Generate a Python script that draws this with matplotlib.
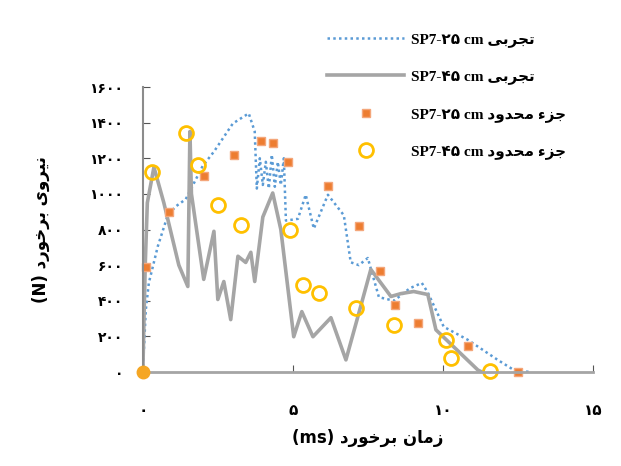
import matplotlib.pyplot as plt

# experimental SP7-25 cm (blue dotted)
exp25_t = [0, 0.1, 0.2, 0.5, 0.83, 1.1, 1.43, 2.0, 2.37, 3.0, 3.53, 3.73, 3.8, 3.9, 4.0, 4.1,
           4.2, 4.3, 4.4, 4.5, 4.6, 4.7, 4.77, 5.17, 5.43, 5.7, 6.17, 6.7, 6.93, 7.2, 7.5,
           7.87, 8.37, 8.9, 9.3, 9.5, 10.03, 10.83, 11.83, 12.37, 12.9]
exp25_f = [0, 350, 500, 706, 880, 930, 970, 1158, 1237, 1395, 1452, 1350, 1030, 1200, 1050, 1180,
           1030, 1220, 1040, 1180, 1050, 1200, 850, 860, 995, 805, 995, 880, 616, 600, 640,
           420, 400, 470, 500, 446, 254, 181, 68, 11, 0]

# experimental SP7-45 cm (gray solid)
exp45_t = [0, 0.08, 0.15, 0.37, 0.7, 1.2, 1.5, 1.57, 1.62, 2.03, 2.37, 2.5, 2.7, 2.93, 3.17,
           3.43, 3.6, 3.73, 4.0, 4.33, 4.6, 5.03, 5.3, 5.67, 6.27, 6.77, 7.2, 7.6, 8.27, 8.6,
           9.03, 9.5, 9.77, 11.17, 11.3]
exp45_f = [0, 600, 950, 1150, 950, 600, 480, 1350, 1000, 520, 790, 407, 508, 294, 650,
           615, 672, 508, 870, 1005, 800, 198, 339, 198, 305, 68, 330, 576, 424, 440,
           452, 435, 237, 11, 0]

# finite element SP7-25 cm (orange)
fem25_t = [0, 0.1, 0.87, 2.03, 3.03, 3.93, 4.33, 4.83, 6.17, 7.2, 7.9, 8.4, 9.17, 10.83, 12.5]
fem25_f = [0, 590, 900, 1100, 1220, 1295, 1283, 1178, 1045, 820, 565, 378, 277, 147, 0]

# finite element SP7-45 cm (yellow rings)
fem45_t = [0.3, 1.43, 1.83, 2.5, 3.27, 4.9, 5.33, 5.87, 7.1, 8.37, 10.1, 10.27, 11.57]
fem45_f = [1125, 1340, 1160, 940, 825, 800, 490, 445, 360, 265, 180, 80, 5]

x_ticks = [0, 5, 10, 15]
x_labels = ['۰', '۵', '۱۰', '۱۵']
y_ticks = [0, 200, 400, 600, 800, 1000, 1200, 1400, 1600]
y_labels = ['۰', '۲۰۰', '۴۰۰', '۶۰۰', '۸۰۰', '۱۰۰۰', '۱۲۰۰', '۱۴۰۰', '۱۶۰۰']

# pre-shaped persian words (visual order, presentation forms)
tajrobi = '\uFEF0\uFE91\uFEAE\uFEA0\uFE97'
joz_mahdud = '\uFEA9\uFEED\uFEAA\uFEA4\uFEE3 \uFE80\uFEB0\uFE9F'
niroo = '\uFEEF\uFEED\uFEAE\uFEF4\uFEE7'
barkhord = '\uFEA9\uFEAD\uFEEE\uFEA7\uFEAE\uFE91'
zaman = '\uFEE5\uFE8E\uFEE3\uFEAF'

labels = ['SP7-۲۵ cm ' + tajrobi, 'SP7-۴۵ cm ' + tajrobi,
          'SP7-۲۵ cm ' + joz_mahdud, 'SP7-۴۵ cm ' + joz_mahdud]

plt.rcParams['font.family'] = ['Liberation Serif', 'DejaVu Sans']

fig = plt.figure(figsize=(6.21, 4.66), dpi=100)
ax = fig.add_axes([0.230, 0.2017, 0.7246, 0.6116])

l1, = ax.plot(exp25_t, exp25_f, color='#5B9BD5', lw=1.8, linestyle=(0, (1, 1.3)))
l2, = ax.plot(exp45_t, exp45_f, color='#A5A5A5', lw=2.6, solid_joinstyle='round')
l3, = ax.plot(fem25_t, fem25_f, 's', color='#ED7D31', ms=5.5, mec='#F4A67A', mew=1, clip_on=False)
l4, = ax.plot(fem45_t, fem45_f, 'o', mfc='none', mec='#FFC000', ms=10, mew=2, clip_on=False)
ax.plot([0], [0], 'o', color='#F5A623', ms=9, clip_on=False, zorder=5)

ax.set_xlim(0, 15)
ax.set_ylim(0, 1600)
ax.set_xticks(x_ticks)
ax.set_xticklabels(x_labels, family=['DejaVu Sans'], fontsize=11, fontweight='bold')
ax.set_yticks(y_ticks)
ax.set_yticklabels(y_labels, family=['DejaVu Sans'], fontsize=10, fontweight='bold')
ax.tick_params(axis='x', direction='in', length=5, color='#555555', pad=22)
ax.tick_params(axis='y', direction='in', length=5, color='#555555', pad=14)

for s in ['top', 'right']:
    ax.spines[s].set_visible(False)
ax.spines['left'].set_color('#8C8C8C')
ax.spines['left'].set_linewidth(1.5)
ax.spines['bottom'].set_color('#A5A5A5')
ax.spines['bottom'].set_linewidth(2)

ax.set_xlabel('(ms) ' + barkhord + ' ' + zaman, family=['DejaVu Sans'], fontsize=12,
              fontweight='bold', labelpad=8)
ax.set_ylabel('(N) ' + barkhord + ' ' + niroo, family=['DejaVu Sans'], fontsize=12,
              fontweight='bold', labelpad=28)

fig.legend([l1, l2, l3, l4], labels, loc='upper left', bbox_to_anchor=(0.505, 0.96),
           frameon=False, handlelength=5.0, handletextpad=0.5, labelspacing=1.5,
           prop={'family': ['Liberation Serif', 'DejaVu Sans'], 'weight': 'bold', 'size': 11})

fig.savefig('out.png', dpi=100)
